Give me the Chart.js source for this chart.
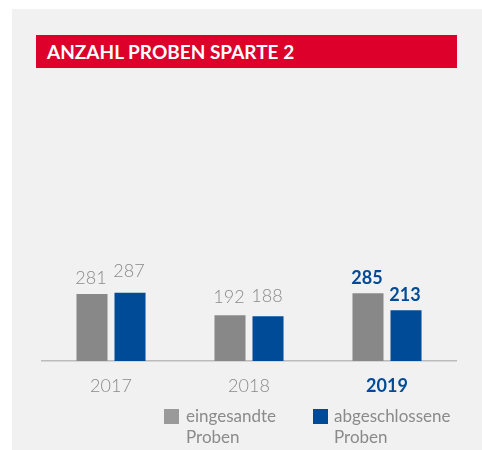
<!DOCTYPE html>
<html><head><meta charset="utf-8">
<script src="https://cdn.jsdelivr.net/npm/chart.js@4"></script>
<style>
html,body{margin:0;padding:0;background:#fff;width:482px;height:450px;overflow:hidden;font-family:Lato,"Open Sans",sans-serif;}
#panel{position:absolute;left:12px;top:9px;width:470px;height:441px;background:#f1f1f1;}
#title{position:absolute;left:36px;top:35px;width:410px;height:33px;background:#dc002b;color:#fff;font-weight:bold;font-size:19px;line-height:33px;padding-left:11px;}
#wrap{position:absolute;left:0;top:0;width:482px;height:450px;}
.leg{position:absolute;top:405px;font-size:17px;line-height:21px;color:#8a8a8a;}
.sw{position:absolute;top:409px;width:15px;height:15px;}
</style></head>
<body>
<div id="panel"></div>
<div id="title">ANZAHL PROBEN SPARTE 2</div>
<div id="wrap"><canvas id="c" width="482" height="450"></canvas></div>
<div class="sw" style="left:164px;background:#9a9a9a"></div>
<div class="leg" style="left:186px">eingesandte<br>Proben</div>
<div class="sw" style="left:313px;background:#004b97"></div>
<div class="leg" style="left:334px">abgeschlossene<br>Proben</div>
<script>
const years = ['2017', '2018', '2019'];
const eingesandt = [281, 192, 285];
const abgeschlossen = [287, 188, 213];
const seriesNames = ['eingesandte Proben', 'abgeschlossene Proben'];

const GREY = '#888888', BLUE = '#004b97', TXT = '#8a8a8a';

const valueLabels = {
  id: 'valueLabels',
  afterDatasetsDraw(chart, args, opts) {
    const ctx = chart.ctx;
    ctx.save();
    ctx.textAlign = 'center';
    ctx.textBaseline = 'alphabetic';
    chart.data.datasets.forEach((ds, di) => {
      const meta = chart.getDatasetMeta(di);
      meta.data.forEach((el, i) => {
        const hl = i === chart.data.labels.length - 1;
        ctx.font = (hl ? 'bold ' : '300 ') + '18px Lato, "Open Sans", sans-serif';
        ctx.fillStyle = hl ? BLUE : TXT;
        ctx.fillText(String(ds.data[i]), el.x - 1, el.y - opts.lift[di][i]);
      });
    });
    ctx.restore();
  }
};

new Chart(document.getElementById('c'), {
  type: 'bar',
  data: {
    labels: years,
    datasets: [
      { label: seriesNames[0], data: eingesandt, backgroundColor: GREY },
      { label: seriesNames[1], data: abgeschlossen, backgroundColor: BLUE }
    ]
  },
  options: {
    responsive: false,
    animation: false,
    events: [],
    layout: { padding: { left: 42, right: 26, top: 123, bottom: 49 } },
    datasets: { bar: { categoryPercentage: 0.551, barPercentage: 0.816 } },
    plugins: {
      legend: { display: false },
      tooltip: { enabled: false },
      title: { display: false },
      valueLabels: { lift: [[10, 12, 9], [16, 14, 9]] }
    },
    scales: {
      y: { display: false, min: 0, max: 1000 },
      x: {
        afterFit(scale) { scale.height = 40; },
        grid: { display: false, drawTicks: false },
        border: { display: true, color: '#bcbcbc', width: 1.5 },
        ticks: {
          padding: 14,
          color: c => c.index === 2 ? BLUE : TXT,
          font: c => ({ family: 'Lato, "Open Sans", sans-serif', size: 18, weight: c.index === 2 ? 'bold' : '300' })
        }
      }
    }
  },
  plugins: [valueLabels]
});
</script>
</body></html>
